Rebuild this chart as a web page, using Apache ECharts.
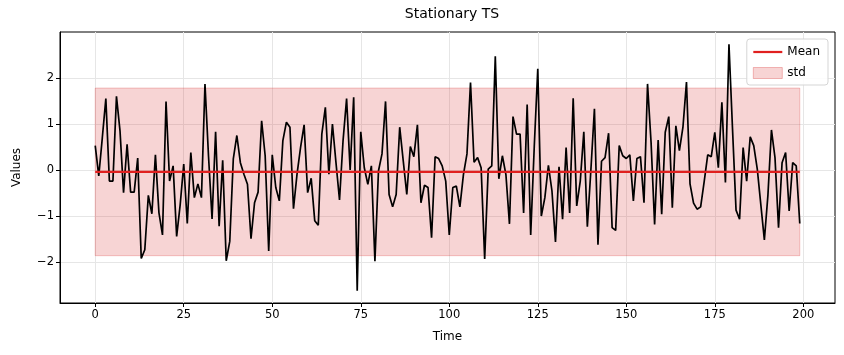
<!DOCTYPE html>
<html>
<head>
<meta charset="utf-8">
<script src="https://cdn.jsdelivr.net/npm/echarts@6/dist/echarts.min.js"></script>
<style>html,body{margin:0;padding:0;background:#fff}#c{width:844px;height:355px}</style>
</head>
<body>
<div id="c"></div>
<script>
var values = [
 0.53,-0.13,0.7,1.55,-0.24,-0.24,1.6,0.85,-0.49,0.56,
 -0.48,-0.48,0.26,-1.92,-1.73,-0.55,-0.95,0.33,-0.93,-1.41,
 1.49,-0.24,0.09,-1.44,-0.75,0.13,-1.16,0.38,-0.6,-0.3,
 -0.6,1.87,0.3,-1.06,0.83,-1.22,0.21,-1.97,-1.55,0.24,
 0.75,0.16,-0.09,-0.31,-1.49,-0.71,-0.48,1.07,0.31,-1.76,
 0.33,-0.38,-0.67,0.64,1.04,0.93,-0.84,-0.09,0.49,0.98,
 -0.49,-0.18,-1.1,-1.2,0.78,1.36,-0.09,1.0,0.16,-0.65,
 0.64,1.55,0.0,1.58,-2.62,0.83,0.05,-0.31,0.09,-1.98,
 -0.02,0.35,1.49,-0.53,-0.8,-0.53,0.93,0.2,-0.53,0.51,
 0.29,0.98,-0.71,-0.33,-0.38,-1.47,0.29,0.25,0.09,-0.24,
 -1.41,-0.38,-0.35,-0.8,-0.1,0.35,1.9,0.17,0.27,0.05,
 -1.93,0.02,0.09,2.47,-0.19,0.31,-0.1,-1.17,1.16,0.78,
 0.78,-0.93,1.42,-1.41,0.5,2.2,-1.0,-0.6,0.1,-0.45,
 -1.56,0.07,-1.07,0.49,-0.93,1.56,-0.78,-0.24,0.83,-1.23,
 0.0,1.33,-1.62,0.19,0.27,0.8,-1.25,-1.31,0.53,0.31,
 0.25,0.33,-0.67,0.25,0.29,-0.71,1.87,0.6,-1.18,0.65,
 -0.96,0.82,1.16,-0.82,0.96,0.42,0.93,1.91,-0.3,-0.72,
 -0.85,-0.8,-0.25,0.33,0.29,0.82,0.05,1.47,-0.27,2.73,
 0.9,-0.87,-1.07,0.49,-0.24,0.72,0.53,0.02,-0.75,-1.52,
 -0.55,0.87,0.27,-1.25,0.16,0.38,-0.89,0.16,0.09,-1.16
];
var meanValue = -0.04;
var bandLower = -1.86;
var bandUpper = 1.78;
var xTicks = [0, 25, 50, 75, 100, 125, 150, 175, 200];
var yTicks = [-2, -1, 0, 1, 2];

var tsData = values.map(function (v, i) { return [i, v]; });
var xFirst = 0, xLast = values.length - 1;
var fontFam = 'DejaVu Sans, sans-serif';
function fmtNum(v) { return String(v).replace('-', '\u2212'); }

var chart = echarts.init(document.getElementById('c'), null, {renderer: 'canvas'});
chart.setOption({
  animation: false,
  backgroundColor: '#fff',
  title: {
    text: 'Stationary TS', left: 447, top: 2, textAlign: 'center',
    textStyle: {fontFamily: fontFam, fontSize: 14, fontWeight: 'normal', color: '#000'}
  },
  legend: {
    orient: 'vertical', right: 16, top: 39,
    padding: [7, 8, 6, 6], itemGap: 9, itemWidth: 29, itemHeight: 11,
    backgroundColor: 'rgba(255,255,255,0.85)', borderColor: '#d5d5d5', borderWidth: 1, borderRadius: 3,
    textStyle: {fontFamily: fontFam, fontSize: 12, color: '#000'},
    data: [
      {name: 'Mean', icon: 'path://M0,0h30v2.3h-30z', itemStyle: {color: '#e0201f'}},
      {name: 'std', icon: 'rect', itemStyle: {color: 'rgba(214,39,40,0.2)', borderColor: 'rgba(214,39,40,0.3)', borderWidth: 1}}
    ]
  },
  grid: {left: 60, right: 9, top: 32, bottom: 52, show: true, borderColor: '#000', borderWidth: 1, containLabel: false},
  xAxis: {
    type: 'value', min: -9.95, max: 208.95,
    name: 'Time', nameLocation: 'middle', nameGap: 28,
    nameTextStyle: {fontFamily: fontFam, fontSize: 12, color: '#000'},
    axisLine: {show: true, onZero: false, lineStyle: {color: '#000'}},
    axisTick: {show: true, length: 4, customValues: xTicks, lineStyle: {color: '#000'}},
    axisLabel: {
      fontFamily: fontFam, fontSize: 11.5, color: '#000', margin: 6,
      customValues: xTicks,
      formatter: function (v) { return fmtNum(v); }
    },
    splitLine: {show: true, lineStyle: {color: '#e6e6e6', width: 1}}
  },
  yAxis: {
    type: 'value', min: -2.8875, max: 2.9975,
    name: 'Values', nameLocation: 'middle', nameGap: 37, nameRotate: 90,
    nameTextStyle: {fontFamily: fontFam, fontSize: 12, color: '#000'},
    axisLine: {show: true, onZero: false, lineStyle: {color: '#000'}},
    axisTick: {show: true, length: 4, customValues: yTicks, lineStyle: {color: '#000'}},
    axisLabel: {
      fontFamily: fontFam, fontSize: 11.5, color: '#000', margin: 6,
      customValues: yTicks,
      formatter: function (v) { return fmtNum(v); }
    },
    splitLine: {show: true, lineStyle: {color: '#e6e6e6', width: 1}}
  },
  series: [
    {
      name: 'std', type: 'line', data: [], z: 1,
      itemStyle: {color: 'rgba(214,39,40,0.2)'},
      markArea: {
        silent: true,
        itemStyle: {color: 'rgba(214,39,40,0.2)', borderColor: 'rgba(214,39,40,0.25)', borderWidth: 1},
        data: [[{coord: [xFirst, bandLower]}, {coord: [xLast, bandUpper]}]]
      }
    },
    {
      name: 'Series', type: 'line', data: tsData, symbol: 'none', z: 3,
      lineStyle: {color: '#000', width: 1.7}, itemStyle: {color: '#000'}
    },
    {
      name: 'Mean', type: 'line', data: [[xFirst, meanValue], [xLast, meanValue]], symbol: 'none', z: 4,
      lineStyle: {color: '#e0201f', width: 2.3}, itemStyle: {color: '#e0201f'}
    }
  ]
});
</script>
</body>
</html>
